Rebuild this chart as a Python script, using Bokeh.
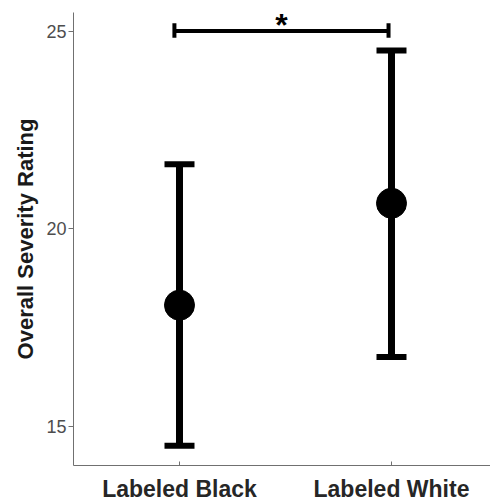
from bokeh.plotting import figure
from bokeh.models import Range1d, FixedTicker, ColumnDataSource, Whisker, TeeHead
from bokeh.core.properties import value
from bokeh.embed import file_html
from bokeh.resources import INLINE

categories = ["Labeled Black", "Labeled White"]
positions = [1, 2]
means = [18.06, 20.64]
upper = [21.63, 24.51]
lower = [14.50, 16.75]
y_ticks = [15, 20, 25]
sig_x = [0.976, 1.986]
sig_y = 25.0
sig_label = "*"

p = figure(width=490, height=504, output_backend="svg", toolbar_location=None,
           x_range=Range1d(0.5, 2.467), y_range=Range1d(14.0, 25.47),
           min_border_left=73, min_border_top=12, min_border_bottom=38, min_border_right=0)
p.grid.visible = False
p.outline_line_color = None

src = ColumnDataSource(dict(x=positions, m=means, up=upper, lo=lower))
w = Whisker(base="x", upper="up", lower="lo", source=src, dimension="height",
            line_width=7, line_color="black",
            upper_head=TeeHead(size=30, line_width=6, line_color="black"),
            lower_head=TeeHead(size=30, line_width=6, line_color="black"))
p.add_layout(w)
p.scatter("x", "m", source=src, size=30, color="black")

# significance bracket
p.segment(x0=[sig_x[0]], y0=[sig_y], x1=[sig_x[1]], y1=[sig_y], line_width=4, line_color="black")
p.segment(x0=sig_x, y0=[sig_y - 0.17] * 2, x1=sig_x, y1=[sig_y + 0.2] * 2, line_width=4, line_color="black")
p.text(x=[(sig_x[0] + sig_x[1]) / 2], y=[sig_y], text=[sig_label], text_align="center",
       text_baseline="alphabetic", text_font=value("Liberation Sans"), text_font_size="32px",
       text_font_style="bold", text_color="black", y_offset=-6)

p.xaxis.ticker = FixedTicker(ticks=positions)
p.xaxis.major_label_overrides = {pos: c for pos, c in zip(positions, categories)}
p.xaxis.major_label_text_font = "Liberation Sans"
p.xaxis.major_label_text_font_style = "bold"
p.xaxis.major_label_text_font_size = "23px"
p.xaxis.major_label_text_color = "#262626"
p.xaxis.major_label_standoff = 10
p.xaxis.major_tick_in = 4
p.xaxis.major_tick_out = 0
p.xaxis.minor_tick_line_color = None
p.xaxis.axis_line_color = "#707070"
p.xaxis.major_tick_line_color = "#707070"

p.yaxis.ticker = FixedTicker(ticks=y_ticks)
p.yaxis.major_label_text_font = "Liberation Sans"
p.yaxis.major_label_text_font_size = "18px"
p.yaxis.major_label_text_color = "#4d4d4d"
p.yaxis.major_label_standoff = 2
p.yaxis.major_tick_in = 0
p.yaxis.major_tick_out = 5
p.yaxis.minor_tick_line_color = None
p.yaxis.axis_line_color = "#707070"
p.yaxis.major_tick_line_color = "#707070"
p.yaxis.axis_label = "Overall Severity Rating"
p.yaxis.axis_label_text_font = "Liberation Sans"
p.yaxis.axis_label_text_font_style = "bold"
p.yaxis.axis_label_text_font_size = "22px"
p.yaxis.axis_label_text_color = "#1a1a1a"
p.yaxis.axis_label_standoff = 5

open("out.html", "w").write(file_html(p, INLINE))
